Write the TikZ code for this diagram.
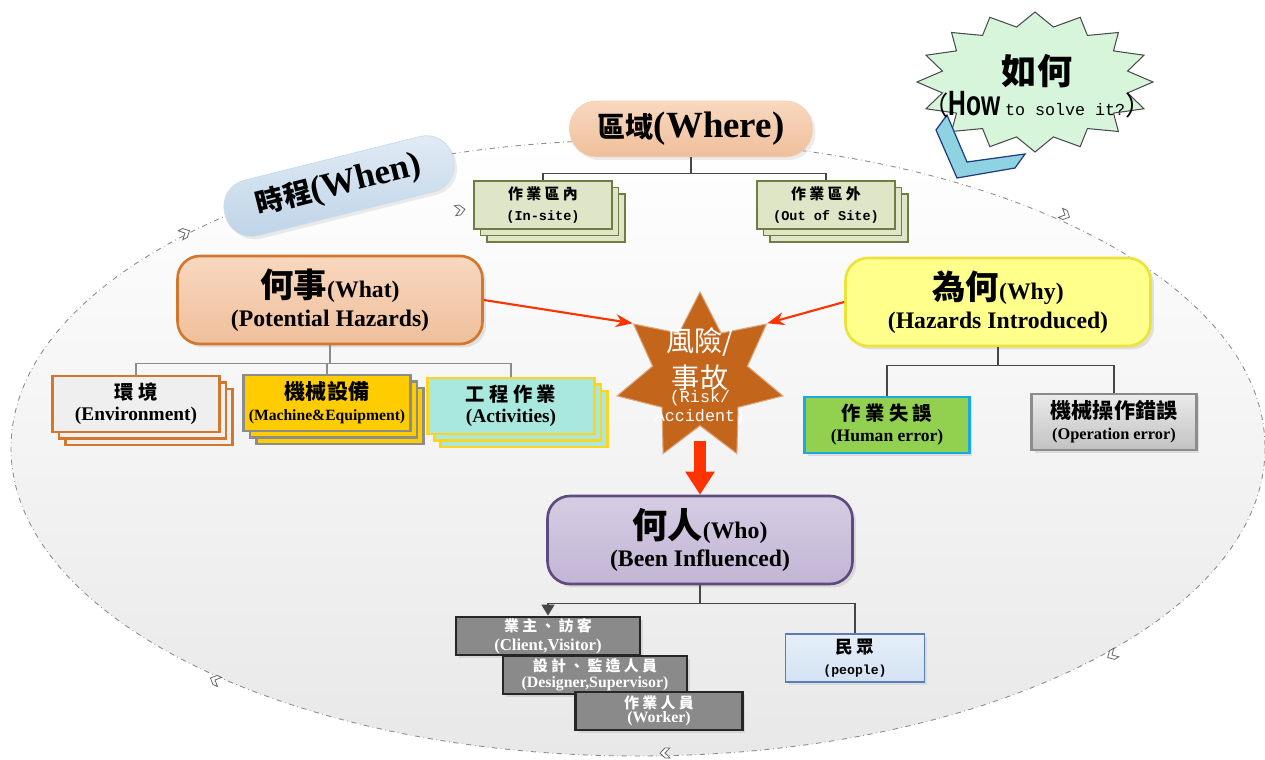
\documentclass[tikz,border=0pt]{standalone}
\usepackage{fontspec}
\setmainfont{Liberation Serif}
\setsansfont{Liberation Sans}
\setmonofont{Liberation Mono}
\newfontfamily\cjk{Noto Sans CJK TC}
\newfontfamily\cjkwide{Noto Sans CJK TC}[LetterSpace=22]
\usepackage{xcolor}
\usetikzlibrary{shapes.geometric,shadows,arrows.meta}

\definecolor{ringgray}{HTML}{8C8C8C}
\definecolor{peachtop}{HTML}{F8D8BF}
\definecolor{peachbot}{HTML}{EFBF9B}
\definecolor{icetop}{HTML}{E2ECF5}
\definecolor{icebot}{HTML}{BDD3E7}
\definecolor{sitefill}{HTML}{DFE6C8}
\definecolor{siteline}{HTML}{6F7D45}
\definecolor{whatline}{HTML}{D2772D}
\definecolor{envfill}{HTML}{EFEFEF}
\definecolor{gold}{HTML}{FFCC00}
\definecolor{aqua}{HTML}{A8E8DF}
\definecolor{aqualine}{HTML}{FFD41F}
\definecolor{riskbrown}{HTML}{C4651C}
\definecolor{hitred}{HTML}{FF3300}
\definecolor{whyfill}{HTML}{FFFF8C}
\definecolor{whyline}{HTML}{EDE23A}
\definecolor{humangreen}{HTML}{92D050}
\definecolor{humanline}{HTML}{1CA7E6}
\definecolor{whotop}{HTML}{D6CDE3}
\definecolor{whobot}{HTML}{C2B5D5}
\definecolor{wholine}{HTML}{5E4A7E}
\definecolor{staffgray}{HTML}{8A8A8A}
\definecolor{peopletop}{HTML}{E6EFF9}
\definecolor{peoplebot}{HTML}{D3E2F3}
\definecolor{peopleline}{HTML}{5A7CB8}
\definecolor{burstgreen}{HTML}{D6F5DA}
\definecolor{calloutblue}{HTML}{8FD3E2}
\definecolor{calloutline}{HTML}{1F3C80}

\newcommand{\zh}[1]{{\cjk\bfseries #1}}
\newcommand{\chev}[3]{\draw[chevron,shift={(#1,#2)},rotate=#3] (-5,-5) -- (0,-5) -- (5,0) -- (0,5) -- (-5,5) -- (0,0) -- cycle;}

\begin{document}
\begin{tikzpicture}[x=0.02cm,y=-0.02cm,
  ring/.style={draw=ringgray,dash dot,line width=0.5pt,top color=white,bottom color=black!9},
  chevron/.style={draw=black!60,fill=white,line width=0.45pt},
  pill/.style={rounded corners=5.4mm,minimum width=48.6mm,minimum height=11.2mm,inner sep=0pt,
    drop shadow={opacity=0.15,shadow xshift=0.6mm,shadow yshift=-0.6mm}},
  stacked/.style={copy shadow={shadow xshift=2.6mm,shadow yshift=-2.6mm},
    copy shadow={shadow xshift=1.3mm,shadow yshift=-1.3mm}},
  sitebox/.style={stacked,draw=siteline,fill=sitefill,line width=0.9pt,minimum width=27.6mm,
    minimum height=9.6mm,inner sep=0pt,align=center},
  bigbox/.style={rounded corners=4.5mm,line width=1.5pt,minimum width=61mm,minimum height=17.6mm,
    inner sep=0pt,align=center,drop shadow={opacity=0.2,shadow xshift=0.7mm,shadow yshift=-0.7mm}},
  hazbox/.style={stacked,line width=1.3pt,minimum width=33.4mm,minimum height=11.2mm,inner sep=0pt,align=center},
  errbox/.style={line width=1.3pt,minimum width=33mm,minimum height=11.2mm,inner sep=0pt,align=center,
    drop shadow={opacity=0.2,shadow xshift=0.6mm,shadow yshift=-0.6mm}},
  staffbox/.style={draw=black!85,fill=staffgray,line width=1.3pt,text=white,inner sep=0pt,
    minimum height=7.7mm,align=center,drop shadow={opacity=0.2,shadow xshift=0.6mm,shadow yshift=-0.6mm}},
  peoplebox/.style={draw=peopleline,top color=peopletop,bottom color=peoplebot,line width=0.8pt,
    minimum width=27.8mm,minimum height=9.6mm,inner sep=0pt,align=center,
    drop shadow={opacity=0.15,shadow xshift=0.6mm,shadow yshift=-0.6mm}},
  riskstar/.style={star,star points=7,star point ratio=1.75,minimum size=34mm,inner sep=0pt,
    fill=riskbrown,draw=riskbrown!60!white,line width=0.6pt},
  burst/.style={draw=black!70,fill=burstgreen,line width=0.6pt},
  callout/.style={draw=calloutline,fill=calloutblue,line width=0.7pt},
  tree/.style={draw=black!72,line width=0.9pt},
  lighttree/.style={draw=black!45,line width=0.6pt},
  hit/.style={draw=hitred,line width=1.2pt,-{Stealth[length=3.4mm,width=2.6mm]}},
  bigdown/.style={draw=hitred,line width=2.4mm,-{Triangle[length=4.6mm,width=5.6mm]}},
]
\useasboundingbox (0,0) rectangle (1265,760);
\draw[ring] (638,448) ellipse [x radius=627,y radius=308];
\chev{185}{233}{27}
\chev{460}{210}{8}
\chev{1065}{215}{-25}
\chev{1112}{655}{-150}
\chev{665}{753}{181}
\chev{215}{680}{156}

% where
\node[pill,top color=peachtop,bottom color=peachbot,draw=peachbot!70!white] (where) at (691,129)
  {{\fontsize{16}{20}\selectfont\zh{區域}}{\fontsize{21}{24}\selectfont\bfseries(Where)}};
\node[sitebox] (insite) at (543,205)
  {{\fontsize{8.5}{11}\selectfont\cjkwide\bfseries 作業區內}\\{\fontsize{7.7}{12}\selectfont\ttfamily\bfseries(In-site)}};
\node[sitebox] (outsite) at (826,205)
  {{\fontsize{8.5}{11}\selectfont\cjkwide\bfseries 作業區外}\\{\fontsize{7.7}{12}\selectfont\ttfamily\bfseries(Out of Site)}};
\draw[tree] (where.south) -- ++(0,16) -| (insite.north);
\draw[tree] (where.south) -- ++(0,16) -| (outsite.north);

% when
\node[pill,rotate=14,minimum width=47mm,minimum height=11.4mm,top color=icetop,bottom color=icebot,
  draw=icebot!80!white] (when) at (339,186)
  {{\fontsize{16}{20}\selectfont\zh{時程}}{\fontsize{20}{24}\selectfont\bfseries(When)}};

% what
\node[bigbox,top color=peachtop,bottom color=peachbot,draw=whatline] (what) at (330,300)
  {{\fontsize{19}{22}\selectfont\zh{何事}}{\fontsize{13.5}{16}\selectfont\bfseries(What)}\\[3pt]
   {\fontsize{13.5}{18}\selectfont\bfseries(Potential Hazards)}};
\node[hazbox,fill=envfill,draw=whatline] (env) at (136,404)
  {{\fontsize{11}{13}\selectfont\cjkwide\bfseries 環境}\\{\fontsize{11}{14}\selectfont\bfseries(Environment)}};
\node[hazbox,fill=gold,draw=black!45] (machine) at (327,403)
  {{\fontsize{12}{13}\selectfont\zh{機械設備}}\\{\fontsize{8.9}{14}\selectfont\bfseries(Machine\&Equipment)}};
\node[hazbox,fill=aqua,draw=aqualine] (activ) at (511,406)
  {{\fontsize{11}{13}\selectfont\cjkwide\bfseries 工程作業}\\{\fontsize{11}{14}\selectfont\bfseries(Activities)}};
\draw[lighttree] (what.south) -- ++(0,18) -| (env.north);
\draw[lighttree] (what.south) -- ++(0,18) -| (machine.north);
\draw[lighttree] (what.south) -- ++(0,18) -| (activ.north);

% risk
\node[riskstar] (risk) at (700,377) {};
\node[text=white,align=center,inner sep=0pt] (risklabel) at ([yshift=0.2mm]risk.center)
  {{\fontsize{16}{17}\selectfont\cjk 風險/}\\[4pt]{\fontsize{16}{15}\selectfont\cjk 事故}\\[-4pt]
   {\ttfamily\fontsize{9.5}{8}\selectfont(Risk/}\\[-1.5pt]{\ttfamily\fontsize{9.5}{8}\selectfont Accident)}};

% why
\node[bigbox,fill=whyfill,draw=whyline] (why) at (998,302)
  {{\fontsize{19}{22}\selectfont\zh{為何}}{\fontsize{13.5}{16}\selectfont\bfseries(Why)}\\[3pt]
   {\fontsize{13.5}{18}\selectfont\bfseries(Hazards Introduced)}};
\node[errbox,fill=humangreen,draw=humanline] (human) at (887,425)
  {{\fontsize{11}{13}\selectfont\cjkwide\bfseries 作業失誤}\\{\fontsize{10}{14}\selectfont\bfseries(Human error)}};
\node[errbox,top color=black!8,bottom color=black!24,draw=black!45,line width=1.7pt] (operr) at (1114,422)
  {{\fontsize{12}{13}\selectfont\zh{機械操作錯誤}}\\{\fontsize{9.3}{14}\selectfont\bfseries(Operation error)}};
\draw[tree] (why.south) -- ++(0,18) -| (human.north);
\draw[tree] (why.south) -- ++(0,18) -| (operr.north);

\draw[hit] (what.east) -- (risk.outer point 2);
\draw[hit] (why.west) -- (risk.outer point 7);

% who
\node[bigbox,top color=whotop,bottom color=whobot,draw=wholine] (who) at (700,540)
  {{\fontsize{20}{22}\selectfont\zh{何人}}{\fontsize{13.5}{16}\selectfont\bfseries(Who)}\\[3pt]
   {\fontsize{13.5}{18}\selectfont\bfseries(Been Influenced)}};
\draw[bigdown] ([yshift=-12.8mm]risk.center) -- (who.north);
\node[staffbox,minimum width=36.8mm] (client) at (548,636)
  {{\fontsize{8.5}{10}\selectfont\cjkwide\bfseries 業主、訪客}\\[-1pt]{\fontsize{9.5}{11}\selectfont\bfseries(Client,Visitor)}};
\node[staffbox,minimum width=36.8mm] (designer) at (595,675)
  {{\fontsize{8.5}{10}\selectfont\cjkwide\bfseries 設計、監造人員}\\[-3pt]{\fontsize{9}{10}\selectfont\bfseries(Designer,Supervisor)}};
\node[staffbox,minimum width=33.4mm] (worker) at (659,711)
  {{\fontsize{8.5}{10}\selectfont\cjkwide\bfseries 作業人員}\\[-4pt]{\fontsize{9}{9}\selectfont\bfseries(Worker)}};
\node[peoplebox] (people) at (855,658)
  {{\fontsize{10}{12}\selectfont\cjkwide\bfseries 民眾}\\{\fontsize{7.5}{12}\selectfont\ttfamily\bfseries(people)}};
\draw[tree,-{Triangle[length=2.2mm,width=2.6mm]}] (who.south) -- ++(0,18) -| (client.north);
\draw[tree] (who.south) -- ++(0,18) -| (people.north);

% how
\draw[burst] plot[samples at={0,...,31},variable=\k]
  ({1035+118*ifthenelse(isodd(\k),0.8,1)*cos(\k*11.25)},{82+70*ifthenelse(isodd(\k),0.8,1)*sin(\k*11.25)}) -- cycle;
\draw[callout] (947,115) -- (967,162) -- (1025,154) -- (1015,168) -- (957,178) -- (936,130) -- cycle;
\node[align=center,inner sep=0pt] (how) at (1037,86)
  {{\fontsize{20}{22}\selectfont\zh{如何}}\\[1pt]
   {\fontsize{15}{16}\selectfont\cjk（}{\sffamily\bfseries\fontsize{20}{18}\selectfont\scalebox{0.7}[1]{How}}
   {\ttfamily\fontsize{9.5}{10}\selectfont to solve it?}{\fontsize{15}{16}\selectfont\cjk）}};
\end{tikzpicture}
\end{document}
